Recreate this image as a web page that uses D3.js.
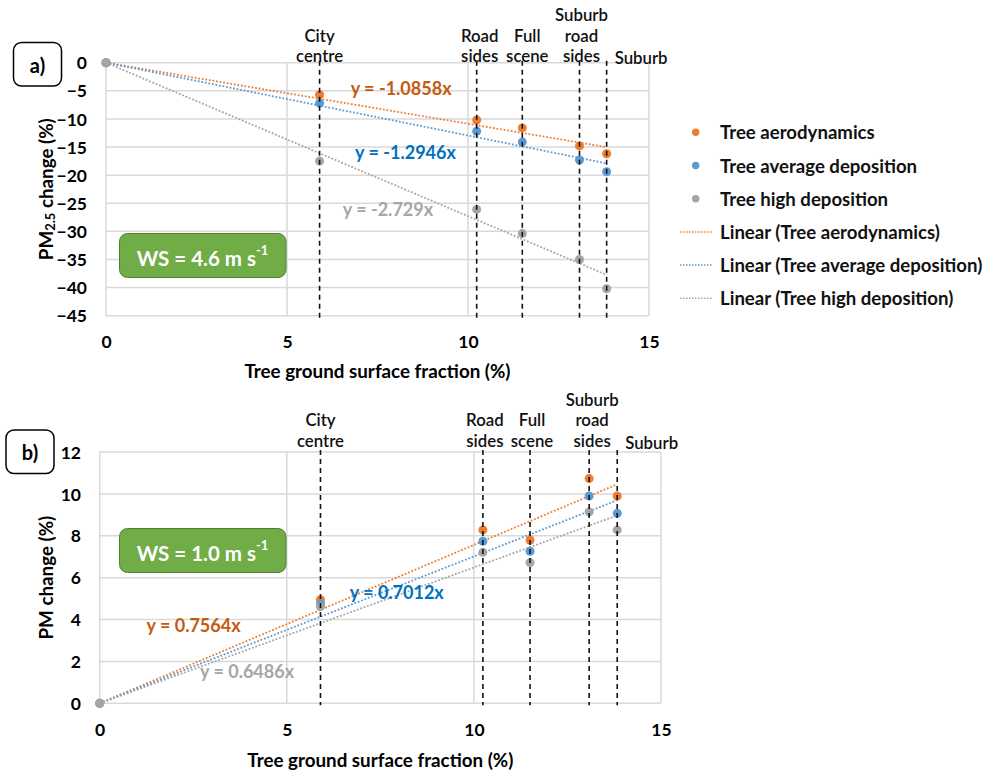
<!DOCTYPE html>
<html><head><meta charset="utf-8">
<script src="https://cdn.jsdelivr.net/npm/d3@7/dist/d3.min.js"></script>
<style>
html,body{margin:0;padding:0;background:#fff;}
svg{display:block;font-family:Lato, "Open Sans", sans-serif;}
</style></head>
<body><svg id="c" width="993" height="771"></svg>
<script>
// ---- data ----
const categories = ["City centre", "Road sides", "Full scene", "Suburb road sides", "Suburb"];
const fraction = [5.9, 10.24, 11.5, 13.08, 13.83];
const seriesNames = ["Tree aerodynamics", "Tree average deposition", "Tree high deposition"];
// panel a (WS = 4.6 m/s)
const aeroA = [-5.7, -10.2, -11.6, -14.8, -16.2];
const avgA  = [-7.2, -12.2, -14.1, -17.3, -19.4];
const highA = [-17.5, -26.1, -30.4, -35.0, -40.2];
const slopesA = [-1.0858, -1.2946, -2.729];
const eqLabelsA = ["y = -1.0858x", "y = -1.2946x", "y = -2.729x"];
// panel b (WS = 1.0 m/s)
const aeroB = [4.95, 8.28, 7.8, 10.73, 9.9];
const avgB  = [4.75, 7.74, 7.26, 9.9, 9.07];
const highB = [4.62, 7.21, 6.72, 9.14, 8.28];
const slopesB = [0.7564, 0.7012, 0.6486];
const eqLabelsB = ["y = 0.7564x", "y = 0.7012x", "y = 0.6486x"];
const yTicksA = [0, -5, -10, -15, -20, -25, -30, -35, -40, -45];
const yTicksB = [0, 2, 4, 6, 8, 10, 12];
const xTicks = [0, 5, 10, 15];

// ---- styles ----
const pointColors = ["#ED7D31", "#5B9BD5", "#A5A5A5"];
const eqColors = ["#C55A11", "#0070C0", "#A6A6A6"];
const svg = d3.select("#c");

function panel(cfg) {
  const x = d3.scaleLinear().domain([0, 15]).range(cfg.xr);
  const y = d3.scaleLinear().domain(cfg.yd).range(cfg.yr);
  const g = svg.append("g");
  const top = cfg.yr[1], bot = cfg.yr[0];
  // grid
  g.selectAll(".hg").data(cfg.yTicks).join("line")
    .attr("x1", x(0)).attr("x2", x(15)).attr("y1", d => y(d)).attr("y2", d => y(d))
    .attr("stroke", "#D9D9D9").attr("stroke-width", 1.5);
  g.selectAll(".vg").data(xTicks).join("line")
    .attr("x1", d => x(d)).attr("x2", d => x(d)).attr("y1", top).attr("y2", bot)
    .attr("stroke", "#D9D9D9").attr("stroke-width", 1.5);
  // axes (tick labels)
  const ya = d3.axisLeft(y).tickValues(cfg.yTicks).tickSize(0).tickPadding(0);
  const yg = g.append("g").attr("transform", `translate(${cfg.yLabelX},0)`).call(ya);
  const xa = d3.axisBottom(x).tickValues(xTicks).tickSize(0).tickPadding(0);
  const xg = g.append("g").attr("transform", `translate(0,${cfg.xLabelY})`).call(xa);
  [yg, xg].forEach(a => {
    a.select(".domain").remove();
    a.selectAll("text").attr("font-family", "Lato").attr("font-weight", "bold")
      .attr("font-size", 17.5).attr("fill", "#000");
  });
  yg.selectAll("text").attr("dy", "0.35em");
  xg.selectAll("text").attr("dy", "0.35em");
  // axis titles
  g.append("text").attr("x", (x(0) + x(15)) / 2).attr("y", cfg.xTitleY)
    .attr("text-anchor", "middle").attr("dominant-baseline", "central")
    .attr("font-weight", "bold").attr("font-size", 18.8).text("Tree ground surface fraction (%)");
  const yt = g.append("text").attr("transform", `translate(45,${(top + bot) / 2}) rotate(-90)`)
    .attr("text-anchor", "middle").attr("dominant-baseline", "central")
    .attr("font-weight", "bold").attr("font-size", 18.8);
  cfg.yTitle(yt);
  // trendlines
  const xmax = d3.max(fraction);
  cfg.slopes.forEach((s, i) => {
    g.append("line").attr("x1", x(0)).attr("y1", y(0)).attr("x2", x(xmax)).attr("y2", y(s * xmax))
      .attr("stroke", pointColors[i]).attr("stroke-width", 1.8).attr("stroke-dasharray", "1.8,1.8");
  });
  // points (origin included)
  cfg.series.forEach((vals, i) => {
    const pts = [[0, 0]].concat(fraction.map((f, j) => [f, vals[j]]));
    g.selectAll(null).data(pts).join("circle")
      .attr("cx", d => x(d[0])).attr("cy", d => y(d[1])).attr("r", 4.5)
      .attr("fill", pointColors[i]);
  });
  // vertical dashed lines
  g.selectAll(null).data(fraction).join("line")
    .attr("x1", d => x(d)).attr("x2", d => x(d)).attr("y1", top - 2).attr("y2", bot + 2)
    .attr("stroke", "#111").attr("stroke-width", 1.6).attr("stroke-dasharray", "5,4");
  // category labels
  categories.forEach((c, i) => {
    const words = c === "Suburb road sides" ? ["Suburb", "road", "sides"] :
      c === "Suburb" ? ["Suburb"] : c.split(" ");
    const isLast = i === categories.length - 1;
    const cx = isLast ? x(fraction[i]) + 8 : x(fraction[i]) + cfg.labelDx[i];
    words.forEach((w, k) => {
      g.append("text").attr("x", cx)
        .attr("y", cfg.labelBase + (isLast ? 2 : 0) - (words.length - 1 - k) * 20.5)
        .attr("text-anchor", isLast ? "start" : "middle").attr("dominant-baseline", "central")
        .attr("font-size", 16.8).attr("font-weight", 600).attr("fill", "#111").text(w);
    });
  });
  // equation labels
  cfg.eqPos.forEach((p, i) => {
    g.append("text").attr("x", x(p[0])).attr("y", y(p[1])).attr("dominant-baseline", "central")
      .attr("font-weight", "bold").attr("font-size", 18).attr("fill", eqColors[i]).text(cfg.eqLabels[i]);
  });
  // WS box
  g.append("rect").attr("x", 119.5).attr("y", cfg.wsY).attr("width", 166.5).attr("height", 44)
    .attr("rx", 8).attr("fill", "#70AD47").attr("stroke", "#507E32").attr("stroke-width", 1);
  const wt = g.append("text").attr("x", 202.5).attr("y", cfg.wsY + 24).attr("text-anchor", "middle")
    .attr("dominant-baseline", "central").attr("font-weight", "bold").attr("font-size", 20.5).attr("fill", "#fff");
  wt.append("tspan").text(cfg.ws);
  wt.append("tspan").attr("font-size", 13).attr("dy", -8).text("-1");
  // panel letter box
  g.append("rect").attr("x", cfg.tag[0]).attr("y", cfg.tag[1]).attr("width", 48).attr("height", 43.5)
    .attr("rx", 8).attr("fill", "#fff").attr("stroke", "#000").attr("stroke-width", 1.5);
  g.append("text").attr("x", cfg.tag[0] + 24).attr("y", cfg.tag[1] + 22).attr("text-anchor", "middle")
    .attr("dominant-baseline", "central").attr("font-weight", "bold").attr("font-size", 20).text(cfg.tagText);
}

panel({
  xr: [106, 649], yd: [-45, 0], yr: [315.7, 62.7], yTicks: yTicksA,
  yLabelX: 87, xLabelY: 341.5, xTitleY: 370.5,
  yTitle: t => { t.append("tspan").text("PM"); t.append("tspan").attr("font-size", 13).attr("dy", 5).text("2.5");
                 t.append("tspan").attr("dy", -5).text(" change (%)"); },
  slopes: slopesA, series: [aeroA, avgA, highA],
  labelDx: [0, 3, 5, 2, 0], labelBase: 55.5,
  eqPos: [[6.76, -4.55], [6.88, -15.83], [6.54, -26.08]], eqLabels: eqLabelsA,
  wsY: 233.5, ws: "WS = 4.6 m s", tag: [13.5, 42.5], tagText: "a)"
});
panel({
  xr: [99.7, 661], yd: [0, 12], yr: [703.3, 452], yTicks: yTicksB,
  yLabelX: 81, xLabelY: 730, xTitleY: 759,
  yTitle: t => t.text("PM change (%)"),
  slopes: slopesB, series: [aeroB, avgB, highB],
  labelDx: [0, 2, 2, 3, 0], labelBase: 440,
  eqPos: [[1.25, 3.74], [6.68, 5.33], [2.68, 1.54]], eqLabels: eqLabelsB,
  wsY: 528.5, ws: "WS = 1.0 m s", tag: [6, 430], tagText: "b)"
});

// legend
const legendItems = seriesNames.map((n, i) => ({ label: n, type: "dot", c: pointColors[i] }))
  .concat(seriesNames.map((n, i) => ({ label: "Linear (" + n + ")", type: "line", c: pointColors[i] })));
const lg = svg.append("g");
legendItems.forEach((d, i) => {
  const yy = 132.3 + i * 33.2;
  if (d.type === "dot") lg.append("circle").attr("cx", 695.7).attr("cy", yy).attr("r", 3.7).attr("fill", d.c);
  else lg.append("line").attr("x1", 680).attr("x2", 713).attr("y1", yy).attr("y2", yy)
    .attr("stroke", d.c).attr("stroke-width", 1.5).attr("stroke-dasharray", "1.5,1.5");
  lg.append("text").attr("x", 720).attr("y", yy).attr("dominant-baseline", "central")
    .attr("font-weight", "bold").attr("font-size", 18.6).attr("fill", "#111").text(d.label);
});
</script></body></html>
